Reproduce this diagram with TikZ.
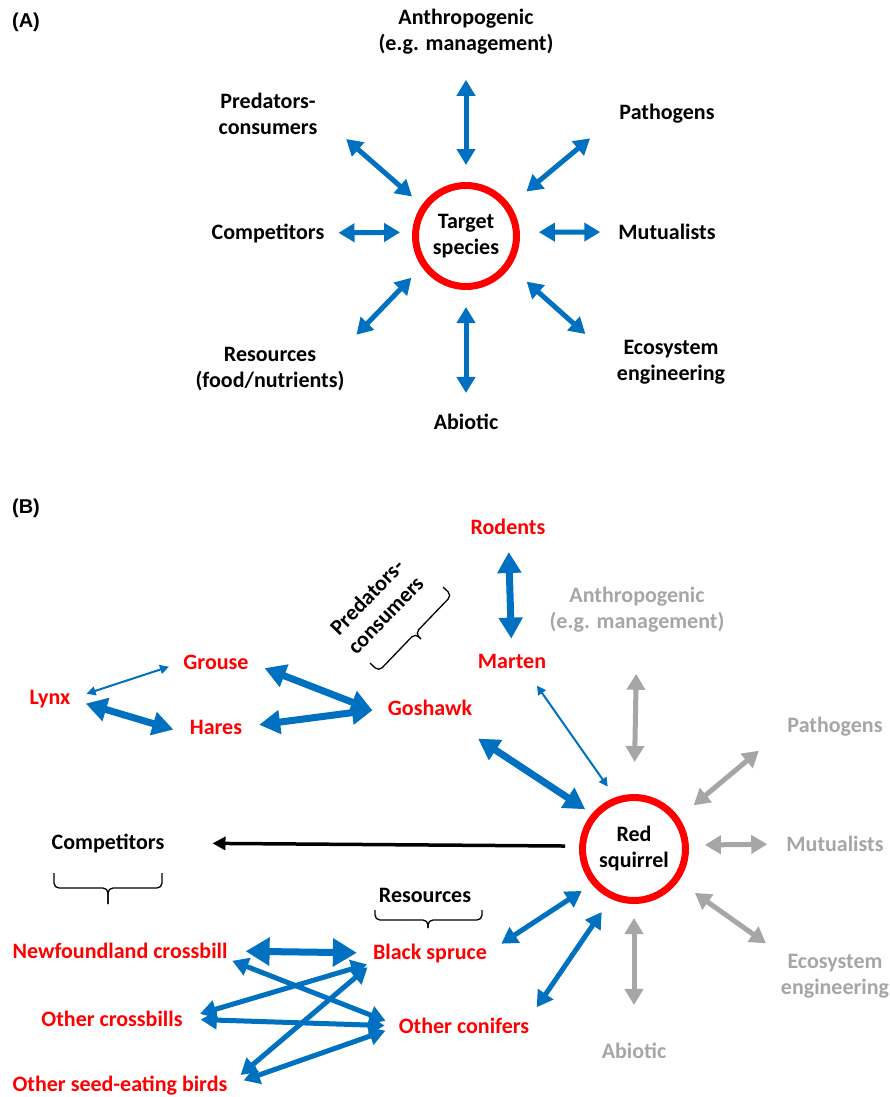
\documentclass[tikz,border=0pt]{standalone}
\usepackage{fontspec}
\setmainfont{Carlito}
\newfontfamily\arialfont{Liberation Sans}
\usetikzlibrary{arrows.meta}
\definecolor{webBlue}{RGB}{0,112,192}
\definecolor{webRed}{RGB}{255,0,0}
\definecolor{webGray}{RGB}{166,166,166}

\tikzset{
  lbl/.style={font=\fontsize{22}{26}\selectfont\bfseries, inner sep=0pt, align=center},
  sp/.style={lbl, text=webRed},
  greyed/.style={lbl, text=webGray},
  panel/.style={font=\arialfont\fontsize{20}{24}\selectfont\bfseries, inner sep=0pt},
  hub/.style={lbl, circle, draw=webRed, line width=7pt, minimum size=#1},
  link/.style={webBlue, line width=5pt, {Triangle[width=18pt,length=16pt]}-{Triangle[width=18pt,length=16pt]}},
  heavy/.style={webBlue, line width=7pt, {Triangle[width=23pt,length=21pt]}-{Triangle[width=23pt,length=21pt]}},
  bulky/.style={webBlue, line width=7pt, {Triangle[width=27pt,length=24pt]}-{Triangle[width=27pt,length=24pt]}},
  slim/.style={webBlue, line width=2pt, {Triangle[width=9pt,length=9pt]}-{Triangle[width=9pt,length=9pt]}},
  faint/.style={link, webGray},
  push/.style={black, line width=3.5pt, -{Triangle[width=13pt,length=13pt]}},
  bracket/.style={draw=black, line width=1.3pt, rounded corners=5pt}
}

\begin{document}
\begin{tikzpicture}[x=1pt, y=-1pt]
\useasboundingbox (0,0) rectangle (889,1097);

% (A) general scheme
\node[panel] (tagA) at (26,22) {(A)};
\node[hub=101] (target) at (466,236) {Target\\species};
\node[lbl] (anthroA) at (466,32) {Anthropogenic\\(e.g. management)};
\node[lbl] (predA) at (268,114) {Predators-\\consumers};
\node[lbl] (pathA) at (667,114) {Pathogens};
\node[lbl] (compA) at (268,233) {Competitors};
\node[lbl] (mutA) at (667,232) {Mutualists};
\node[lbl] (resA) at (270,369) {Resources\\(food/nutrients)};
\node[lbl] (ecoA) at (671,362) {Ecosystem\\engineering};
\node[lbl] (abioA) at (466,422) {Abiotic};

\draw[link, shorten <=17pt, shorten >=25pt] (target.north) -- (anthroA.south);
\draw[link, shorten <=13pt, shorten >=38pt] (target.145) -- (predA.east);
\draw[link, shorten <=21pt, shorten >=38pt] (target.35) -- (pathA.west);
\draw[link, shorten <=12pt, shorten >=14pt] (target.176) -- (compA.east);
\draw[link, shorten <=19pt, shorten >=18pt] (target.4) -- (mutA.west);
\draw[link, shorten <=15pt, shorten >=17pt] (target.215) -- (resA.north east);
\draw[link, shorten <=22pt, shorten >=42pt] (target.325) -- (ecoA.west);
\draw[link, shorten <=17pt, shorten >=21pt] (target.south) -- (abioA.north);

% (B) red squirrel
\node[panel] (tagB) at (26,508) {(B)};
\node[hub=103] (squirrel) at (634,849) {Red\\squirrel};
\node[sp] (rodents) at (508,527) {Rodents};
\node[sp] (marten) at (512,661) {Marten};
\node[greyed] (anthroB) at (637,610) {Anthropogenic\\(e.g. management)};
\node[greyed] (pathB) at (835,727) {Pathogens};
\node[greyed] (mutB) at (835,844) {Mutualists};
\node[greyed] (ecoB) at (835,976) {Ecosystem\\engineering};
\node[greyed] (abioB) at (634,1051) {Abiotic};
\node[sp] (grouse) at (216,662) {Grouse};
\node[sp] (hares) at (216,727) {Hares};
\node[sp] (lynx) at (50,699) {Lynx};
\node[sp] (goshawk) at (430,708) {Goshawk};
\node[lbl] (compB) at (108,843) {Competitors};
\node[lbl] (resB) at (425,895) {Resources};
\node[lbl, rotate=46] (predB) at (376,606) {Predators-\\consumers};
\node[sp] (newfound) at (120,951) {Newfoundland crossbill};
\node[sp] (spruce) at (430,953) {Black spruce};
\node[sp] (ocross) at (112,1019) {Other crossbills};
\node[sp] (oconif) at (464,1026) {Other conifers};
\node[sp] (oseed) at (120,1086) {Other seed-eating birds};

% braces
\draw[bracket] (370,663) -- (378.7,671.3) -- (415.2,633.3) -- (420.9,638.9);
\draw[bracket] (443,587) -- (451.7,595.3) -- (415.2,633.3) -- (420.9,638.9);
\draw[bracket] (54,873) -- (54,888) -- (108,888) -- (108,904);
\draw[bracket] (162,873) -- (162,888) -- (108,888) -- (108,904);
\draw[bracket] (375,910) -- (375,920) -- (428,920) -- (428,928);
\draw[bracket] (482,910) -- (482,920) -- (428,920) -- (428,928);

% food web links
\draw[heavy, shorten <=17pt, shorten >=15pt] (rodents) -- (marten);
\draw[slim, shorten <=17pt, shorten >=15pt] (lynx.east) -- (grouse.west);
\draw[heavy, shorten <=16pt, shorten >=17pt] (lynx.east) -- (hares.south west);
\draw[heavy, shorten <=17pt, shorten >=17pt] (grouse.east) -- (goshawk.south west);
\draw[heavy, shorten <=17pt, shorten >=15pt] (hares.east) -- (goshawk.west);
\draw[heavy, shorten <=41pt, shorten >=8pt] (goshawk.-30) -- (squirrel.140);
\draw[slim, shorten <=21pt, shorten >=13pt] (marten.-30) -- (squirrel.110);

\draw[faint, shorten <=41pt, shorten >=32pt] (anthroB.south) -- (squirrel.north);
\draw[faint, shorten <=19pt, shorten >=37pt] (squirrel.35) -- (pathB.west);
\draw[faint, shorten <=16pt, shorten >=19pt] (squirrel.4) -- (mutB.west);
\draw[faint, shorten <=20pt, shorten >=18pt] (squirrel.-36) -- (ecoB.north west);
\draw[faint, shorten <=14pt, shorten >=38pt] (squirrel.south) -- (abioB.north);

\draw[push, shorten <=14pt, shorten >=48pt] (squirrel.177) -- (compB.east);

\draw[link, shorten <=12pt, shorten >=17pt] (squirrel.220) -- (spruce.east);
\draw[link, shorten <=16pt, shorten >=13pt] (squirrel.245) -- (oconif.north east);
\draw[bulky, shorten <=18pt, shorten >=16pt] (newfound.east) -- (spruce.west);
\draw[link, shorten <=5pt, shorten >=14pt] (newfound.south east) -- (oconif.west);
\draw[link, shorten <=18pt, shorten >=6pt] (ocross.east) -- (spruce.south west);
\draw[link, shorten <=18pt, shorten >=14pt] (ocross.east) -- (oconif.west);
\draw[link, shorten <=17pt, shorten >=7pt] (oseed.east) -- (spruce.south west);
\draw[link, shorten <=17pt, shorten >=14pt] (oseed.east) -- (oconif.west);
\end{tikzpicture}
\end{document}
